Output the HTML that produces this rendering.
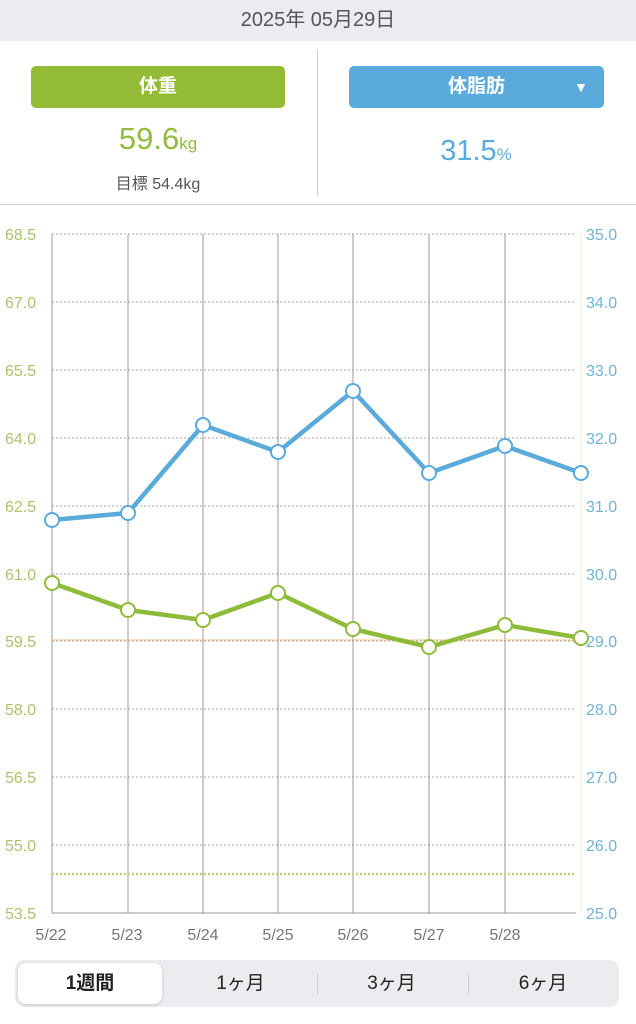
<!DOCTYPE html>
<html><head><meta charset="utf-8"><style>
body{margin:0;width:636px;height:1024px;background:#fff;font-family:"Liberation Sans","Noto Sans CJK JP",sans-serif;position:relative;overflow:hidden}
.hdr{position:absolute;left:0;top:0;width:636px;height:41px;background:#ebecf1;text-align:center;line-height:41px;font-size:20px;color:#555}
.btn{position:absolute;top:66px;height:42px;border-radius:5px;color:#fff;font-size:19px;font-weight:bold;text-align:center;line-height:42px}
.tabs{position:absolute;left:15px;top:960px;width:604px;height:47px;background:#ececf0;border-radius:10px}
.tab{position:absolute;top:0;height:47px;line-height:47px;font-size:19px;color:#222;text-align:center}
</style></head><body>
<div class="hdr">2025年 05月29日</div>
<div class="btn" style="left:31px;width:254px;background:#93bb35">体重</div>
<div class="btn" style="left:349px;width:255px;background:#5aaadb">体脂肪<span style="position:absolute;right:16px;top:0;font-size:14px">▼</span></div>
<div style="position:absolute;left:0;width:316px;top:121px;text-align:center;color:#93bb3c;font-size:31px">59.6<span style="font-size:17px">kg</span></div>
<div style="position:absolute;left:0;width:316px;top:170px;text-align:center;color:#555;font-size:16px">目標 54.4kg</div>
<div style="position:absolute;left:318px;width:316px;top:135px;text-align:center;color:#5aaadb;font-size:29px">31.5<span style="font-size:17px">%</span></div>
<div style="position:absolute;left:317px;top:50px;width:1px;height:146px;background:#ccc"></div>
<div style="position:absolute;left:0;top:204px;width:636px;height:1px;background:#ccc"></div>
<svg style="position:absolute;left:0;top:0" width="636" height="1024">
<g stroke="#aaa" stroke-dasharray="2,2" stroke-width="1">
<line x1="52" x2="576" y1="234" y2="234"/><line x1="52" x2="576" y1="302" y2="302"/><line x1="52" x2="576" y1="370" y2="370"/><line x1="52" x2="576" y1="438" y2="438"/><line x1="52" x2="576" y1="506" y2="506"/><line x1="52" x2="576" y1="574" y2="574"/><line x1="52" x2="576" y1="641" y2="641"/><line x1="52" x2="576" y1="709" y2="709"/><line x1="52" x2="576" y1="777" y2="777"/><line x1="52" x2="576" y1="845" y2="845"/>
</g>
<g stroke="#999" stroke-width="1">
<line x1="52" x2="52" y1="234" y2="913"/><line x1="128" x2="128" y1="234" y2="913"/><line x1="203" x2="203" y1="234" y2="913"/><line x1="278" x2="278" y1="234" y2="913"/><line x1="353" x2="353" y1="234" y2="913"/><line x1="429" x2="429" y1="234" y2="913"/><line x1="505" x2="505" y1="234" y2="913"/>
<line x1="52" x2="576" y1="913" y2="913"/>
</g>
<line x1="581" x2="581" y1="234" y2="913" stroke="#f3efd8"/>
<line x1="52" x2="576" y1="640" y2="640" stroke="#f3c48a" stroke-width="1"/>
<line x1="52" x2="576" y1="874" y2="874" stroke="#b8d67a" stroke-width="2.5" stroke-dasharray="2,2"/>
<polyline fill="none" stroke="#5aaadb" stroke-width="4.5" stroke-linejoin="round" points="52,520 128,513 203,425 278,452 353,391 429,473 505,446 581,473"/>
<polyline fill="none" stroke="#8fbb3a" stroke-width="4.5" stroke-linejoin="round" points="52,583 128,610 203,620 278,593 353,629 429,647 505,625 581,638"/>
<g fill="#fff" stroke="#5aaadb" stroke-width="2"><circle cx="52" cy="520" r="7"/><circle cx="128" cy="513" r="7"/><circle cx="203" cy="425" r="7"/><circle cx="278" cy="452" r="7"/><circle cx="353" cy="391" r="7"/><circle cx="429" cy="473" r="7"/><circle cx="505" cy="446" r="7"/><circle cx="581" cy="473" r="7"/></g>
<g fill="#fff" stroke="#8fbb3a" stroke-width="2"><circle cx="52" cy="583" r="7"/><circle cx="128" cy="610" r="7"/><circle cx="203" cy="620" r="7"/><circle cx="278" cy="593" r="7"/><circle cx="353" cy="629" r="7"/><circle cx="429" cy="647" r="7"/><circle cx="505" cy="625" r="7"/><circle cx="581" cy="638" r="7"/></g>
<g font-family="Liberation Sans" font-size="16" fill="#a9c56a">
<text x="5" y="240">68.5</text><text x="5" y="308">67.0</text><text x="5" y="376">65.5</text><text x="5" y="444">64.0</text><text x="5" y="512">62.5</text><text x="5" y="580">61.0</text><text x="5" y="647">59.5</text><text x="5" y="715">58.0</text><text x="5" y="783">56.5</text><text x="5" y="851">55.0</text><text x="5" y="919">53.5</text></g>
<g font-family="Liberation Sans" font-size="16" fill="#6fb3d9">
<text x="586" y="240">35.0</text><text x="586" y="308">34.0</text><text x="586" y="376">33.0</text><text x="586" y="444">32.0</text><text x="586" y="512">31.0</text><text x="586" y="580">30.0</text><text x="586" y="647">29.0</text><text x="586" y="715">28.0</text><text x="586" y="783">27.0</text><text x="586" y="851">26.0</text><text x="586" y="919">25.0</text></g>
<g font-family="Liberation Sans" font-size="16" fill="#777" text-anchor="middle">
<text x="51" y="940">5/22</text><text x="127" y="940">5/23</text><text x="203" y="940">5/24</text><text x="278" y="940">5/25</text><text x="353" y="940">5/26</text><text x="429" y="940">5/27</text><text x="505" y="940">5/28</text></g>
</svg>
<div class="tabs">
<div style="position:absolute;left:3px;top:3px;width:144px;height:41px;background:#fff;border-radius:8px;box-shadow:0 1px 3px rgba(0,0,0,.15)"></div>
<div class="tab" style="left:0;width:150px;font-weight:bold">1週間</div>
<div class="tab" style="left:150px;width:151px">1ヶ月</div>
<div class="tab" style="left:301px;width:151px">3ヶ月</div>
<div class="tab" style="left:452px;width:152px">6ヶ月</div>
<div style="position:absolute;left:302px;top:14px;width:1px;height:20px;background:#ccc"></div>
<div style="position:absolute;left:453px;top:14px;width:1px;height:20px;background:#ccc"></div>
</div>
</body></html>
